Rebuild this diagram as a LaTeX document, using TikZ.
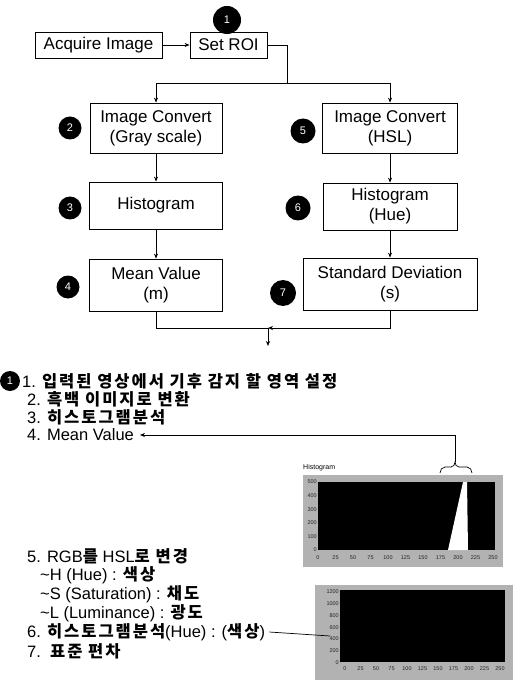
\documentclass[tikz,border=0pt]{standalone}
\usepackage{fontspec}
\setmainfont{Liberation Sans}
\newfontfamily\kr{Noto Sans CJK KR}[LetterSpace=12]
\newcommand\hg[1]{{\kr\bfseries #1}}
\usetikzlibrary{arrows.meta}

\begin{document}
\begin{tikzpicture}[x=1pt,y=-1pt,
  box/.style={draw,line width=0.8pt,align=center,inner sep=0pt,
    font=\fontsize{17}{20}\selectfont},
  badge/.style={circle,fill=black,text=white,inner sep=0pt,minimum size=#1,
    font=\fontsize{11}{11}\selectfont},
  badge/.default=24pt,
  link/.style={line width=0.7pt},
  arr/.style={link,-{Stealth[length=5pt,width=4pt]}},
  item/.style={anchor=west,inner sep=0pt,font=\fontsize{16.5}{18}\selectfont},
  tick/.style={inner sep=0pt,font=\fontsize{5.5}{6}\selectfont,text=black!85},
]
\useasboundingbox (0,0) rectangle (523,692);

% ---- flowchart ----
\node[box,minimum width=127pt,minimum height=26pt] (acq) at (98.5,45) {Acquire Image};
\node[box,minimum width=77pt,minimum height=26pt] (roi) at (228.5,45) {Set ROI};
\node[badge=28pt] (c1) at (227,20) {1};

\node[box,minimum width=132pt,minimum height=50pt] (b2) at (156,128) {Image Convert\\(Gray scale)};
\node[box,minimum width=133pt,minimum height=47pt] (b3) at (156,205.5) {Histogram};
\node[box,minimum width=133pt,minimum height=52pt] (b4) at (156,285) {Mean Value\\(m)};

\node[box,minimum width=135pt,minimum height=50pt] (b5) at (390,128) {Image Convert\\(HSL)};
\node[box,minimum width=134pt,minimum height=47pt] (b6) at (390,206.5) {Histogram\\(Hue)};
\node[box,minimum width=174pt,minimum height=52pt] (b7) at (390,284) {Standard Deviation\\(s)};

\node[badge=23pt] (c2) at (70,128) {2};
\node[badge=23pt] (c3) at (70,208) {3};
\node[badge=23pt] (c4) at (68,287) {4};
\node[badge=25pt] (c5) at (303,131) {5};
\node[badge=25pt] (c6) at (298,208) {6};
\node[badge=26pt] (c7) at (283,293) {7};

\draw[arr] (acq) -- (roi);
\coordinate (split) at (287,83);
\draw[link] (roi.east) -| (split);
\draw[arr] (split) -| (b2.north);
\draw[arr] (split) -| (b5.north);
\draw[arr] (b2) -- (b3);
\draw[arr] (b3) -- (b4);
\draw[arr] (b5) -- (b6);
\draw[arr] (b6) -- (b7);
\coordinate (merge) at (268,328);
\coordinate (out) at (268,346);
\draw[link] (b4.south) |- (merge);
\draw[arr] (b7.south) |- (merge);
\draw[arr] (merge) -- (out);

% ---- list ----
\node[badge=20pt] (c1b) at (10,381) {1};
\node[item] (l1) at (22,381) {1. \hg{입력된 영상에서 기후 감지 할 영역 설정}};
\node[item] (l2) at (27,399) {2. \hg{흑백 이미지로 변환}};
\node[item] (l3) at (27,417) {3. \hg{히스토그램분석}};
\node[item] (l4) at (27,435) {4. Mean Value};
\node[item] (l5) at (27,556) {5. RGB\hg{를} HSL\hg{로 변경}};
\node[item] (l5h) at (40,575) {\textasciitilde H (Hue) : \hg{색상}};
\node[item] (l5s) at (40,594) {\textasciitilde S (Saturation) : \hg{채도}};
\node[item] (l5l) at (40,613) {\textasciitilde L (Luminance) : \hg{광도}};
\node[item] (l6) at (27,632) {6. \hg{히스토그램분석}(Hue) : (\hg{색상})};
\node[item] (l7) at (27,651) {7.\ \ \hg{표준 편차}};

% ---- histogram of the grey image ----
\fill[black!30] (303,475) rectangle (503,567);
\node[anchor=west,inner sep=0pt,font=\fontsize{7}{7}\selectfont] (h1t) at (303,468) {Histogram};
\fill[black] (318,482) rectangle (495,550);
\fill[white] (463,482) -- (467,482) -- (468,550) -- (448,550) -- cycle;
\foreach \v [count=\i from 0] in {500,400,300,200,100,0}
  \node[tick,anchor=east] at (317,482+\i*13.6) {\v};
\foreach \v [count=\i from 0] in {0,25,50,75,100,125,150,175,200,225,250}
  \node[tick] at (318+\i*17.5,558) {\v};

% brace over the peak, tied to item 4
\coordinate (brtop) at (455,462);
\coordinate (mvtip) at (140,435);
\draw[link] (440,473) to[out=90,in=180] (445,467) -- (451,467)
  to[out=0,in=-90] (brtop) to[out=-90,in=180] (459,467) -- (467,467)
  to[out=0,in=90] (472,473);
\draw[arr] (brtop) |- (mvtip);

% ---- histogram of the hue plane ----
\fill[black!30] (315,585) rectangle (513,680);
\fill[black] (340,590) rectangle (505,662);
\foreach \v [count=\i from 0] in {1200,1000,800,600,400,200,0}
  \node[tick,anchor=east] at (339,592+\i*11.7) {\v};
\foreach \v [count=\i from 0] in {0,25,50,75,100,125,150,175,200,225,250}
  \node[tick] at (345+\i*15.5,669) {\v};
\coordinate (h2pt) at (330,636);
\draw[link] (l6.east) ++(4,0) -- (h2pt);
\end{tikzpicture}
\end{document}
